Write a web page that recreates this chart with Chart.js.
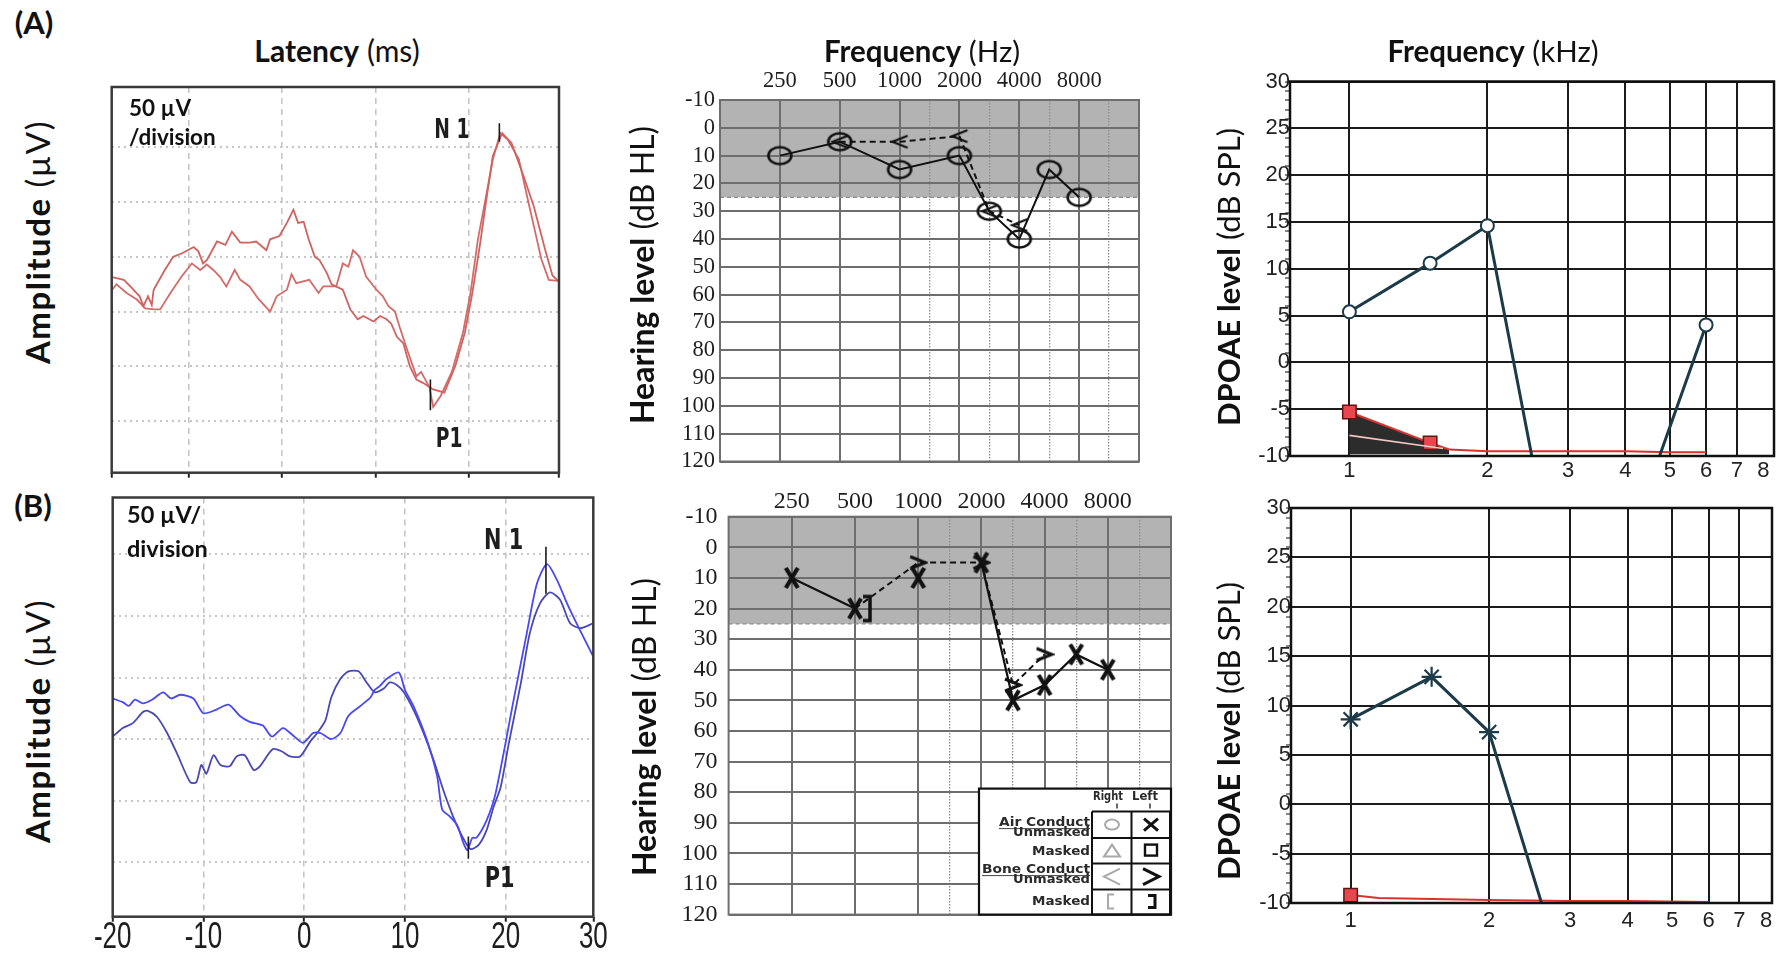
<!DOCTYPE html>
<html>
<head>
<meta charset="utf-8">
<title>Cortical responses, audiograms and DPOAE</title>
<script src="https://cdn.jsdelivr.net/npm/chart.js@4.4.1/dist/chart.umd.min.js"></script>
<style>
  html, body { margin: 0; padding: 0; background: #fff; }
  body { position: relative; width: 1781px; height: 955px; overflow: hidden; font-family: Lato, 'Open Sans', sans-serif; color: #111; }
  canvas { position: absolute; }
  .lbl { position: absolute; white-space: nowrap; transform: translate(-50%, -50%); font-size: 29.5px; z-index: 5; }
  .lbl b { font-weight: 700; }
  .rot { transform: translate(-50%, -50%) rotate(-90deg); font-size: 32px; }
  .tag { font-size: 31px; font-weight: 700; }
  .note { position: absolute; font-size: 22.5px; font-weight: 700; z-index: 5; white-space: nowrap; }
</style>
</head>
<body>
<div class="lbl tag" style="left:34px;top:22px">(A)</div>
<div class="lbl tag" style="left:33px;top:505px">(B)</div>
<div class="lbl" style="left:337px;top:50px;font-size:30px"><b>Latency</b> (ms)</div>
<div class="lbl" style="left:922px;top:50px"><b>Frequency</b> (Hz)</div>
<div class="lbl" style="left:1493px;top:50px"><b>Frequency</b> (kHz)</div>
<div class="lbl rot" style="left:37px;top:242px;font-size:33px;letter-spacing:1.5px"><b>Amplitude</b> (µV)</div>
<div class="lbl rot" style="left:37px;top:721px;font-size:33px;letter-spacing:1.5px"><b>Amplitude</b> (µV)</div>
<div class="lbl rot" style="left:641px;top:275px"><b>Hearing level</b> (dB HL)</div>
<div class="lbl rot" style="left:643px;top:727px"><b>Hearing level</b> (dB HL)</div>
<div class="lbl rot" style="left:1228px;top:277px;font-size:31px"><b>DPOAE level</b> (dB SPL)</div>
<div class="lbl rot" style="left:1228px;top:731px;font-size:31px"><b>DPOAE level</b> (dB SPL)</div>
<div class="note" style="left:129px;top:93px;line-height:29px">50 µV<br>/division</div>
<div class="note" style="left:127px;top:497px;line-height:34px;font-size:23.5px">50 µV/<br>division</div>

<script>
// ---------- cortical responses (latency in ms, amplitude in µV) ----------
const latA1 = [-18.5,-17.0,-16.3,-15.3,-14.9,-14.4,-14.0,-13.8,-12.6,-11.7,-10.8,-9.5,-9.0,-8.5,-8.1,-7.7,-7.0,-6.1,-5.4,-4.5,-3.5,-2.8,-1.7,-1.3,-0.3,0.5,1.2,1.7,2.3,2.8,3.5,4.0,4.8,5.3,6.5,7.3,8.1,8.7,9.8,10.5,11.2,11.7,12.3,13.0,13.7,14.4,15.1,16.2,17.4,18.6,19.6,20.4,21.2,21.8,22.6,23.6,24.6,25.8,27.0,28.2,29.0,29.6];
const ampA1 = [3,0,-6,-15,-24,-15,-23,-9,9,21,24,30,26,15,18,24,35,32,44,34,34,35,27,37,40,52,64,52,53,38,21,18,6,-4,-9,-27,-36,-33,-38,-33,-36,-40,-52,-58,-79,-91,-94,-100,-103,-78,-48,-12,31,67,113,134,125,97,67,28,4,-1];
const latA2 = [-18.5,-17.8,-16.7,-15.6,-14.7,-13.8,-13.1,-12.0,-10.8,-9.7,-8.8,-8.1,-7.4,-6.7,-6.0,-5.1,-4.5,-3.5,-2.6,-1.3,-0.6,0.5,1.0,1.5,2.9,3.9,4.4,5.8,6.2,6.5,7.1,7.6,8.3,9.0,10.1,10.8,11.4,12.1,12.6,13.3,13.9,14.4,14.9,15.8,16.2,17.0,18.2,19.4,20.2,21.0,21.8,22.6,23.4,24.2,25.4,26.2,27.0,27.8,28.6,29.6];
const ampA2 = [-12,-4,-12,-18,-26,-27,-27,-12,3,15,9,14,9,3,-6,9,0,-6,-17,-29,-15,-9,5,-3,0,-12,-6,-6,6,15,12,27,21,3,-9,-15,-24,-29,-43,-61,-76,-88,-84,-98,-116,-106,-84,-48,-12,37,73,110,134,128,110,79,49,19,0,-1];
const latB1 = [-19.0,-18.0,-17.4,-16.8,-16.0,-15.1,-14.0,-13.2,-12.3,-11.0,-10.0,-8.7,-7.5,-6.4,-5.4,-4.1,-3.2,-2.1,-1.1,-0.1,0.9,1.6,2.7,3.6,4.4,5.6,6.6,7.0,7.5,8.2,9.4,10.0,10.9,12.2,13.2,13.7,14.5,15.2,15.8,16.2,16.7,17.1,18.1,19.0,20.8,22.1,23.1,24.1,25.1,26.1,27.4,28.7];
const ampB1 = [7,4,1,6,3,6,12,7,10,7,-5,-2,2,-7,-12,-15,-24,-17,-23,-29,-21,-21,-26,-21,-7,1,8,14,17,23,28,14,0,-27,-56,-83,-89,-96,-110,-116,-106,-106,-92,-70,6,60,100,116,103,84,62,41];
const latB2 = [-19.0,-18.0,-17.0,-16.0,-15.5,-14.6,-13.6,-12.6,-11.3,-10.7,-10.2,-9.7,-9.0,-8.3,-7.4,-6.7,-5.9,-5.0,-4.4,-3.1,-2.2,-1.4,-0.4,0.6,1.3,2.1,2.7,3.6,4.4,5.4,6.2,7.0,7.9,8.5,9.2,9.9,10.9,11.8,12.85,13.8,14.8,15.7,16.5,17.3,18.1,18.8,19.5,20.3,21.5,22.4,23.4,24.4,25.4,26.4,27.4,28.7];
const ampB2 = [-24,-17,-13,-4,-3,-8,-21,-38,-61,-61,-47,-54,-39,-47,-48,-40,-39,-51,-48,-34,-36,-40,-40,-28,-21,-11,8,23,29,29,20,12,15,20,18,12,-3,-20,-43,-67,-89,-105,-115,-112,-100,-81,-65,-30,19,60,84,93,87,68,64,68];
const latencyTicks = [-20, -10, 0, 10, 20, 30];
const divisionsA = [-129, -79, -29, 21, 71, 121];   // 50 µV per division
const divisionsB = [-126, -76, -26, 24, 74, 124];
const peaksA = [{ lat: 23.3, from: 126, to: 143 }, { lat: 15.9, from: -119, to: -91 }];
const peaksB = [{ lat: 24.0, from: 92, to: 130 }, { lat: 16.3, from: -123, to: -105 }];
const peakNamesA = [{ text: 'N 1', lat: 18.2, amp: 136 }, { text: 'P1', lat: 17.9, amp: -146 }];
const peakNamesB = [{ text: 'N 1', lat: 19.8, amp: 134 }, { text: 'P1', lat: 19.4, amp: -140 }];

// ---------- pure-tone audiograms (dB HL) ----------
const audFreqs = [250, 500, 1000, 2000, 3000, 4000, 6000, 8000];
const audTopLabels = [250, 500, 1000, 2000, 4000, 8000];
const audGridFreqs = [250, 500, 1000, 1500, 2000, 3000, 4000, 6000, 8000, 12000];
const acRightA = [10, 5, 15, 10, 30, 40, 15, 25];
const bcFreqs = [500, 1000, 2000, 3000, 4000];
const bcRightA = [5, 5, 3, 30, 35];
const acLeftB = [10, 20, 10, 5, 50, 45, 35, 40];
const acLeftBJoined = [true, false, false, true, true, true, true];
const bcLeftB = [20, 5, 5, 45, 35];
const bcLeftBMasked = [true, false, false, false, false];
const hlTicks = [-10, 0, 10, 20, 30, 40, 50, 60, 70, 80, 90, 100, 110, 120];
const normalLimit = 25;

// ---------- DPOAE (kHz, dB SPL) ----------
const dpFreqA = [1, 1.5, 2, 2.5, 3.5, 4.75, 6];
const dpLevelA = [5.4, 10.6, 14.6, -10, null, -10, 4.0];
const nfFreqA = [1, 1.5, 1.65, 2, 3, 4, 5, 6];
const nfLevelA = [-5.3, -8.6, -9.3, -9.5, -9.5, -9.5, -9.6, -9.6];
const sdFreqA = [1, 1.6];
const sdLevelA = [-7.8, -9.2];
const dpFreqB = [1, 1.5, 2, 2.6];
const dpLevelB = [8.6, 12.9, 7.3, -10];
const nfFreqB = [1, 1.15, 1.5, 2, 3, 4, 6];
const nfLevelB = [-9.2, -9.5, -9.6, -9.7, -9.8, -9.8, -9.9];
const khzTicks = [1, 2, 3, 4, 5, 6, 7, 8];
const splTicks = [];
for (let v = -10; v <= 30; v++) splTicks.push(v);

// audiogram column layout: octaves with half-octave columns
const AUD_POS = { 125: -1, 250: 0, 500: 1, 1000: 2, 1500: 2.5, 2000: 3, 3000: 3.5, 4000: 4, 6000: 4.5, 8000: 5, 12000: 5.5, 16000: 6 };

const LAYOUT = {
  wfA:  { canvas: [60, 70, 560, 425],   box: [111.7, 87, 559, 472.7] },
  wfB:  { canvas: [60, 480, 580, 475],  box: [112.7, 497.5, 593.3, 916.7] },
  audA: { canvas: [650, 55, 540, 425],  box: [720, 100, 1139, 465] },
  audB: { canvas: [650, 475, 545, 465], box: [728.6, 516.7, 1171, 918] },
  dpA:  { canvas: [1240, 60, 541, 430], box: [1290, 81.5, 1774, 456] },
  dpB:  { canvas: [1240, 490, 541, 460], box: [1291, 508, 1772, 903] }
};

const SANS = "'Liberation Sans', Arial, sans-serif";
const HEAVY = "'DejaVu Sans', 'Liberation Sans', sans-serif";
const SERIF = "'Liberation Serif', 'Times New Roman', serif";
const TEAL = '#1c3a48';

const pts = (xs, ys) => xs.map((x, i) => ({ x, y: ys[i] }));

// canvas + padding so that the chart area lands on the panel box;
// sides listed in axisSides get their space as axis size (tick labels are clipped to the axis box)
function mount(name, axisSides) {
  const L = LAYOUT[name];
  const c = document.createElement('canvas');
  c.width = L.canvas[2]; c.height = L.canvas[3];
  c.style.left = L.canvas[0] + 'px'; c.style.top = L.canvas[1] + 'px';
  document.body.appendChild(c);
  const pad = {
    left: L.box[0] - L.canvas[0], top: L.box[1] - L.canvas[1],
    right: L.canvas[0] + L.canvas[2] - L.box[2], bottom: L.canvas[1] + L.canvas[3] - L.box[3]
  };
  const sizes = {};
  axisSides.forEach(s => { sizes[s] = pad[s]; pad[s] = 0; });
  const fit = side => s => {
    const v = sizes[side] || 0;
    if (s.isHorizontal()) s.height = v; else s.width = v;
  };
  return { c, pad, fit };
}

const base = pad => ({
  responsive: false, animation: false, events: [],
  layout: { padding: pad, autoPadding: false },
  plugins: { legend: { display: false }, tooltip: { enabled: false } }
});

const frame = (color, width) => ({
  id: 'frame',
  afterDatasetsDraw(ch) {
    const { ctx, chartArea: a } = ch;
    ctx.save(); ctx.strokeStyle = color; ctx.lineWidth = width;
    ctx.strokeRect(a.left, a.top, a.right - a.left, a.bottom - a.top);
    ctx.restore();
  }
});

// condensed text (the original instrument printouts use a narrow face)
function narrowText(ctx, text, x, y, font, squeeze) {
  ctx.save();
  ctx.font = font; ctx.fillStyle = '#1e1e1e';
  ctx.textAlign = 'center'; ctx.textBaseline = 'middle';
  ctx.translate(x, y); ctx.scale(squeeze, 1);
  ctx.fillText(text, 0, 0);
  ctx.restore();
}

const peakText = (items, font, squeeze) => ({
  id: 'peakText',
  afterDatasetsDraw(ch) {
    const { ctx, scales: { x, y } } = ch;
    items.forEach(n => narrowText(ctx, n.text, x.getPixelForValue(n.lat), y.getPixelForValue(n.amp), font, squeeze));
  }
});

const latencyLabels = show => ({
  id: 'latencyLabels',
  afterDraw(ch) {
    if (!show) return;
    const { ctx, chartArea: a, scales: { x } } = ch;
    x.ticks.forEach((t, i) => narrowText(ctx, String(latencyTicks[i]), x.getPixelForValue(t.value), a.bottom + 21, '37px ' + SANS, 0.7));
  }
});

// ---------- waveforms ----------
function waveform(name, traces, xr, yr, divisions, peaks, names, font, squeeze, showLabels, tension) {
  const { c, pad, fit } = mount(name, []);
  const datasets = [];
  peaks.forEach(p => datasets.push({ data: [{ x: p.lat, y: p.from }, { x: p.lat, y: p.to }], borderColor: '#1a1a1a', borderWidth: 1.6, pointRadius: 0 }));
  traces.forEach(t => datasets.push({ data: pts(t.lat, t.amp), borderColor: t.color, borderWidth: 1.8, pointRadius: 0, tension }));
  const inside = c => c.tick.value > c.scale.min && c.tick.value < c.scale.max;
  new Chart(c, {
    type: 'line',
    data: { datasets },
    options: {
      ...base(pad),
      scales: {
        x: {
          type: 'linear', min: xr[0], max: xr[1], afterFit: fit('bottom'),
          afterBuildTicks: s => { s.ticks = latencyTicks.map(v => ({ value: Math.min(Math.max(v, s.min), s.max) })); },
          grid: { color: c => inside(c) ? '#c6c6c6' : 'transparent', lineWidth: 1.6, drawTicks: true, tickLength: 5, tickColor: '#222', tickWidth: 2, tickBorderDash: [] },
          border: { display: false, dash: [6, 5] },
          ticks: { display: false, autoSkip: false }
        },
        y: {
          type: 'linear', min: yr[0], max: yr[1], afterFit: fit('left'),
          afterBuildTicks: s => { s.ticks = divisions.map(v => ({ value: v })); },
          grid: { color: '#c6c6c6', lineWidth: 2, drawTicks: false },
          border: { display: false, dash: [2, 4] },
          ticks: { display: false }
        }
      }
    },
    plugins: [frame('#3a3a3a', 2.5), peakText(names, font, squeeze), latencyLabels(showLabels)]
  });
}

waveform('wfA',
  [{ lat: latA1, amp: ampA1, color: '#d0625f' }, { lat: latA2, amp: ampA2, color: '#d36c69' }],
  [-18.3, 29.7], [-176, 176], divisionsA, peaksA, peakNamesA, 'bold 26px ' + HEAVY, 0.72, false, 0);
waveform('wfB',
  [{ lat: latB1, amp: ampB1, color: '#4848f4' }, { lat: latB2, amp: ampB2, color: '#4848b4' }],
  [-19, 28.7], [-170, 170], divisionsB, peaksB, peakNamesB, 'bold 29px ' + HEAVY, 0.72, true, 0.25);

// ---------- audiogram symbols ----------
function glyph(w, h, draw) {
  const c = document.createElement('canvas');
  c.width = w; c.height = h;
  const g = c.getContext('2d');
  g.strokeStyle = '#111'; g.lineJoin = 'miter';
  draw(g);
  return c;
}
const G = {
  ring: glyph(28, 22, g => { g.lineWidth = 2.6; g.beginPath(); g.ellipse(14, 11, 11.5, 8.5, 0, 0, Math.PI * 2); g.stroke(); }),
  lt: glyph(20, 16, g => { g.lineWidth = 2.4; g.beginPath(); g.moveTo(18, 2); g.lineTo(3, 8); g.lineTo(18, 14); g.stroke(); }),
  gt: glyph(20, 16, g => { g.lineWidth = 3; g.beginPath(); g.moveTo(2, 2); g.lineTo(17, 8); g.lineTo(2, 14); g.stroke(); }),
  cross: glyph(20, 24, g => { g.lineWidth = 4.2; g.beginPath(); g.moveTo(4, 2); g.lineTo(16, 22); g.moveTo(16, 2); g.lineTo(4, 22); g.stroke(); }),
  bracket: glyph(40, 30, g => { g.lineWidth = 3.5; g.beginPath(); g.moveTo(28, 3); g.lineTo(35, 3); g.lineTo(35, 27); g.lineTo(28, 27); g.stroke(); })
};

const isOctave = c => audTopLabels.includes(audGridFreqs[c.index]);

const normalBand = {
  id: 'normalBand',
  beforeDraw(ch) {
    const { ctx, chartArea: a, scales: { y } } = ch;
    const yb = y.getPixelForValue(normalLimit);
    ctx.save(); ctx.fillStyle = '#b3b3b3';
    ctx.fillRect(a.left, a.top, a.right - a.left, yb - a.top);
    ctx.restore();
  },
  beforeDatasetsDraw(ch) {
    const { ctx, chartArea: a, scales: { y } } = ch;
    const yb = y.getPixelForValue(normalLimit);
    ctx.save(); ctx.strokeStyle = '#8c8c8c'; ctx.lineWidth = 1.4; ctx.setLineDash([4, 3]);
    ctx.beginPath(); ctx.moveTo(a.left, yb); ctx.lineTo(a.right, yb); ctx.stroke();
    ctx.restore();
  }
};

const audLegend = {
  id: 'audLegend',
  afterDraw(ch) {
    const { ctx, chartArea: a } = ch;
    const W = 192, H = 126, x0 = a.right - W, y0 = a.bottom - H;
    ctx.save();
    ctx.fillStyle = '#fff'; ctx.fillRect(x0, y0, W, H);
    ctx.strokeStyle = '#111'; ctx.lineWidth = 2.2; ctx.strokeRect(x0, y0, W, H);
    const text = (t, xr, y, w, underline, align) => {
      ctx.save();
      ctx.font = 'bold 12.5px ' + HEAVY;
      const k = w / ctx.measureText(t).width;
      ctx.translate(xr, y); ctx.scale(k, 1);
      ctx.textAlign = align || 'right'; ctx.textBaseline = 'middle'; ctx.fillStyle = '#2a2a2a';
      ctx.fillText(t, 0, 0);
      ctx.restore();
      if (underline) {
        ctx.save(); ctx.strokeStyle = '#444'; ctx.lineWidth = 1;
        ctx.beginPath(); ctx.moveTo(xr - w, y + 6); ctx.lineTo(xr, y + 6); ctx.stroke(); ctx.restore();
      }
    };
    text('Right', x0 + 129, y0 + 8, 30, false, 'center');
    text('Left', x0 + 166, y0 + 8, 26, false, 'center');
    ctx.strokeStyle = '#333'; ctx.lineWidth = 1.5;
    ctx.beginPath();
    ctx.moveTo(x0 + 138, y0 + 15); ctx.lineTo(x0 + 138, y0 + 20);
    ctx.moveTo(x0 + 171, y0 + 15); ctx.lineTo(x0 + 171, y0 + 20);
    ctx.stroke();
    text('Air Conduct', x0 + 111, y0 + 34, 91, true);
    text('Unmasked', x0 + 111, y0 + 44.5, 77);
    text('Masked', x0 + 111, y0 + 63, 58);
    text('Bone Conduct', x0 + 111, y0 + 81, 108, true);
    text('Unmasked', x0 + 111, y0 + 91.5, 77);
    text('Masked', x0 + 111, y0 + 113, 58);
    const cols = [x0 + 113, x0 + 152.5, x0 + 191];
    const rows = [y0 + 23, y0 + 49.5, y0 + 75, y0 + 101, y0 + 126];
    ctx.strokeStyle = '#111'; ctx.lineWidth = 2;
    ctx.beginPath();
    cols.forEach(x => { ctx.moveTo(x, rows[0]); ctx.lineTo(x, rows[4]); });
    rows.forEach(y => { ctx.moveTo(cols[0], y); ctx.lineTo(cols[2], y); });
    ctx.stroke();
    const cr = x0 + 133, cl = x0 + 172, rc = [y0 + 36, y0 + 62, y0 + 88, y0 + 113];
    ctx.lineWidth = 2; ctx.strokeStyle = '#a9a9a9';
    ctx.beginPath(); ctx.ellipse(cr, rc[0], 7, 5, 0, 0, Math.PI * 2); ctx.stroke();
    ctx.beginPath(); ctx.moveTo(cr - 8, rc[1] + 6); ctx.lineTo(cr, rc[1] - 6); ctx.lineTo(cr + 8, rc[1] + 6); ctx.closePath(); ctx.stroke();
    ctx.beginPath(); ctx.moveTo(cr + 8, rc[2] - 8); ctx.lineTo(cr - 8, rc[2]); ctx.lineTo(cr + 8, rc[2] + 8); ctx.stroke();
    ctx.beginPath(); ctx.moveTo(cr + 2, rc[3] - 7); ctx.lineTo(cr - 4, rc[3] - 7); ctx.lineTo(cr - 4, rc[3] + 7); ctx.lineTo(cr + 2, rc[3] + 7); ctx.stroke();
    ctx.strokeStyle = '#111'; ctx.lineWidth = 3;
    ctx.beginPath(); ctx.moveTo(cl - 7, rc[0] - 6); ctx.lineTo(cl + 7, rc[0] + 6); ctx.moveTo(cl + 7, rc[0] - 6); ctx.lineTo(cl - 7, rc[0] + 6); ctx.stroke();
    ctx.lineWidth = 2.4; ctx.strokeRect(cl - 6, rc[1] - 6, 12, 11);
    ctx.lineWidth = 3;
    ctx.beginPath(); ctx.moveTo(cl - 8, rc[2] - 8); ctx.lineTo(cl + 8, rc[2]); ctx.lineTo(cl - 8, rc[2] + 8); ctx.stroke();
    ctx.beginPath(); ctx.moveTo(cl - 3, rc[3] - 6); ctx.lineTo(cl + 4, rc[3] - 6); ctx.lineTo(cl + 4, rc[3] + 6); ctx.lineTo(cl - 3, rc[3] + 6); ctx.stroke();
    ctx.restore();
  }
};

function audiogram(name, datasets, size, padTop, padLeft, extra) {
  const { c, pad, fit } = mount(name, ['top', 'left']);
  new Chart(c, {
    type: 'line',
    data: { datasets },
    options: {
      ...base(pad),
      scales: {
        x: {
          type: 'linear', position: 'top', min: AUD_POS[125], max: AUD_POS[16000], afterFit: fit('top'),
          afterBuildTicks: s => { s.ticks = audGridFreqs.map(f => ({ value: AUD_POS[f] })); },
          grid: { color: c => isOctave(c) ? '#6e6e6e' : '#8e8e8e', lineWidth: c => isOctave(c) ? 2 : 1.3, drawTicks: false },
          border: { display: false, dash: c => isOctave(c) ? [] : [1.5, 1.5] },
          ticks: { autoSkip: false, maxRotation: 0, padding: padTop, color: '#1e1e1e', font: { family: SERIF, size },
                   callback: (v, i) => audTopLabels.includes(audGridFreqs[i]) ? String(audGridFreqs[i]) : '' }
        },
        y: {
          type: 'linear', reverse: true, min: -10, max: 120, afterFit: fit('left'),
          afterBuildTicks: s => { s.ticks = hlTicks.map(v => ({ value: v })); },
          grid: { color: '#6e6e6e', lineWidth: 2, drawTicks: false },
          border: { display: false },
          ticks: { autoSkip: false, padding: padLeft, color: '#1e1e1e', font: { family: SERIF, size } }
        }
      }
    },
    plugins: [normalBand, frame('#6e6e6e', 2)].concat(extra)
  });
}

const freqPos = fs => fs.map(f => AUD_POS[f]);

audiogram('audA', [
  { data: pts(freqPos(audFreqs), acRightA), borderColor: '#111', borderWidth: 2, pointStyle: G.ring, pointRadius: 10 },
  { data: pts(freqPos(bcFreqs), bcRightA), borderColor: '#111', borderWidth: 2, borderDash: [6, 4], pointStyle: G.lt, pointRadius: 8 }
], 22.5, 5, 5, []);

audiogram('audB', [
  { data: pts(freqPos(audFreqs), acLeftB), borderColor: '#111', borderWidth: 2.2, pointStyle: G.cross, pointRadius: 10,
    segment: { borderColor: c => acLeftBJoined[c.p0DataIndex] ? '#111' : 'rgba(0,0,0,0)' } },
  { data: pts(freqPos(bcFreqs), bcLeftB), borderColor: '#111', borderWidth: 2, borderDash: [6, 4],
    pointStyle: bcLeftBMasked.map(m => m ? G.bracket : G.gt), pointRadius: 8 }
], 24, 1, 11, [audLegend]);

// ---------- DPOAE ----------
function dpoae(name, datasets, xMax, padBottom) {
  const { c, pad, fit } = mount(name, ['bottom', 'left']);
  new Chart(c, {
    type: 'line',
    data: { datasets },
    options: {
      ...base(pad),
      scales: {
        x: {
          type: 'logarithmic', bounds: 'data', min: 0.742, max: xMax, afterFit: fit('bottom'),
          afterBuildTicks: s => { s.ticks = khzTicks.map(v => ({ value: v })); },
          grid: { color: c => c.tick.value < 8 ? '#1b1b1b' : 'rgba(0,0,0,0)', lineWidth: 2, drawTicks: false },
          border: { display: false },
          ticks: { autoSkip: false, maxRotation: 0, padding: padBottom, color: '#222', font: { family: SANS, size: 22 }, callback: (v, i) => String(khzTicks[i]) }
        },
        y: {
          type: 'linear', min: -10, max: 30, afterFit: fit('left'),
          afterBuildTicks: s => { s.ticks = splTicks.map(v => ({ value: v })); },
          grid: { color: c => c.tick.value % 5 === 0 ? '#1b1b1b' : 'rgba(0,0,0,0)', lineWidth: 2, drawTicks: true, tickLength: 5, tickColor: '#333', tickWidth: 1.2 },
          border: { display: false },
          ticks: { autoSkip: false, padding: -5, color: '#222', font: { family: SANS, size: 22 }, callback: v => v % 5 === 0 ? String(v) : '' }
        }
      }
    },
    plugins: [frame('#111', 2.5)]
  });
}

const NOISE_FILL = '#2c2c2c';
dpoae('dpA', [
  { data: pts(dpFreqA, dpLevelA), borderColor: TEAL, borderWidth: 3, spanGaps: false, pointStyle: 'circle',
    pointRadius: c => (c.raw && c.raw.y > -10) ? 6.5 : 0, pointBorderWidth: 2, pointBorderColor: TEAL, pointBackgroundColor: '#fff' },
  { data: pts(sdFreqA, sdLevelA), borderColor: '#f2c6c6', borderWidth: 1.6, pointRadius: 0 },
  { data: pts(nfFreqA, nfLevelA), borderColor: '#d8322f', borderWidth: 2, pointStyle: 'rect',
    pointRadius: c => c.dataIndex < 2 ? 9.5 : 0, pointBackgroundColor: '#ea4650', pointBorderColor: '#6b1010', pointBorderWidth: 1.5,
    fill: { value: -9.8 }, backgroundColor: NOISE_FILL,
    segment: { backgroundColor: c => c.p0DataIndex < 2 ? NOISE_FILL : 'rgba(0,0,0,0)' } }
], 8.44, 2);

dpoae('dpB', [
  { data: pts(dpFreqB, dpLevelB), borderColor: TEAL, borderWidth: 3, pointStyle: 'star',
    pointRadius: c => (c.raw && c.raw.y > -10) ? 10 : 0, pointBorderWidth: 2.2, pointBorderColor: TEAL },
  { data: pts(nfFreqB, nfLevelB), borderColor: '#d8322f', borderWidth: 2, pointStyle: 'rect',
    pointRadius: c => c.dataIndex < 1 ? 9.5 : 0, pointBackgroundColor: '#ea4650', pointBorderColor: '#6b1010', pointBorderWidth: 1.5 }
], 8.24, 5);
</script>
</body>
</html>
